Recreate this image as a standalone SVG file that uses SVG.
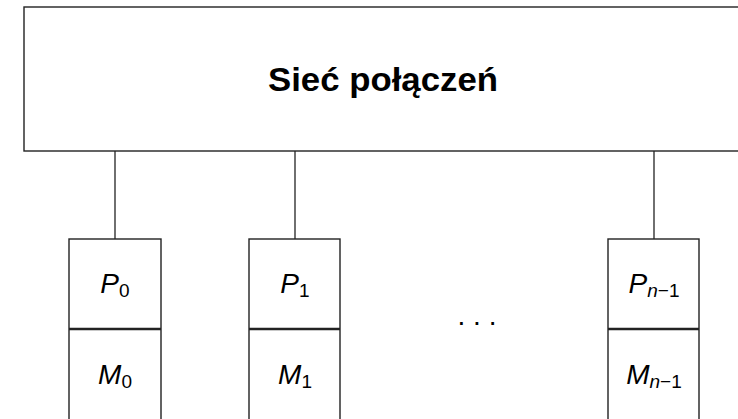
<svg xmlns="http://www.w3.org/2000/svg" width="738" height="419" viewBox="0 0 738 419">
<style>
.box{fill:#fff;stroke:#222;stroke-width:1.4}
.div{stroke:#222;stroke-width:2.6}
.con{stroke:#222;stroke-width:1.3;fill:none}
.title{font-family:"Liberation Sans",Arial,sans-serif;font-weight:bold;font-size:34px;fill:#000}
.lbl{font-family:"Liberation Sans",Arial,sans-serif;font-size:28px;fill:#000}
.it{font-style:italic}
.sub{font-size:19px}
</style>
<g id="connectors">
<line class="con" x1="115" y1="151" x2="115" y2="239"/>
<line class="con" x1="295" y1="151" x2="295" y2="239"/>
<line class="con" x1="654" y1="151" x2="654" y2="239"/>
</g>
<g id="network">
<rect class="box" x="24" y="7" width="740" height="144"/>
<text class="title" x="268" y="91" textLength="230" lengthAdjust="spacingAndGlyphs">Sieć połączeń</text>
</g>
<g id="node0">
<rect class="box" x="69" y="239" width="92" height="200"/>
<line class="div" x1="69" y1="329" x2="161" y2="329"/>
<text class="lbl" x="115" y="293" text-anchor="middle"><tspan class="it">P</tspan><tspan class="sub" dy="4">0</tspan></text>
<text class="lbl" x="115" y="384" text-anchor="middle"><tspan class="it">M</tspan><tspan class="sub" dy="4">0</tspan></text>
</g>
<g id="node1">
<rect class="box" x="249" y="239" width="91" height="200"/>
<line class="div" x1="249" y1="329" x2="340" y2="329"/>
<text class="lbl" x="295" y="293" text-anchor="middle"><tspan class="it">P</tspan><tspan class="sub" dy="4">1</tspan></text>
<text class="lbl" x="295" y="384" text-anchor="middle"><tspan class="it">M</tspan><tspan class="sub" dy="4">1</tspan></text>
</g>
<g id="dots">
<text class="lbl" x="477" y="325" text-anchor="middle" font-size="24">. . .</text>
</g>
<g id="noden">
<rect class="box" x="608" y="239" width="91" height="200"/>
<line class="div" x1="608" y1="329" x2="699" y2="329"/>
<text class="lbl" x="654" y="293" text-anchor="middle"><tspan class="it">P</tspan><tspan class="sub it" dy="4">n</tspan><tspan class="sub">−1</tspan></text>
<text class="lbl" x="654" y="384" text-anchor="middle"><tspan class="it">M</tspan><tspan class="sub it" dy="4">n</tspan><tspan class="sub">−1</tspan></text>
</g>
</svg>
